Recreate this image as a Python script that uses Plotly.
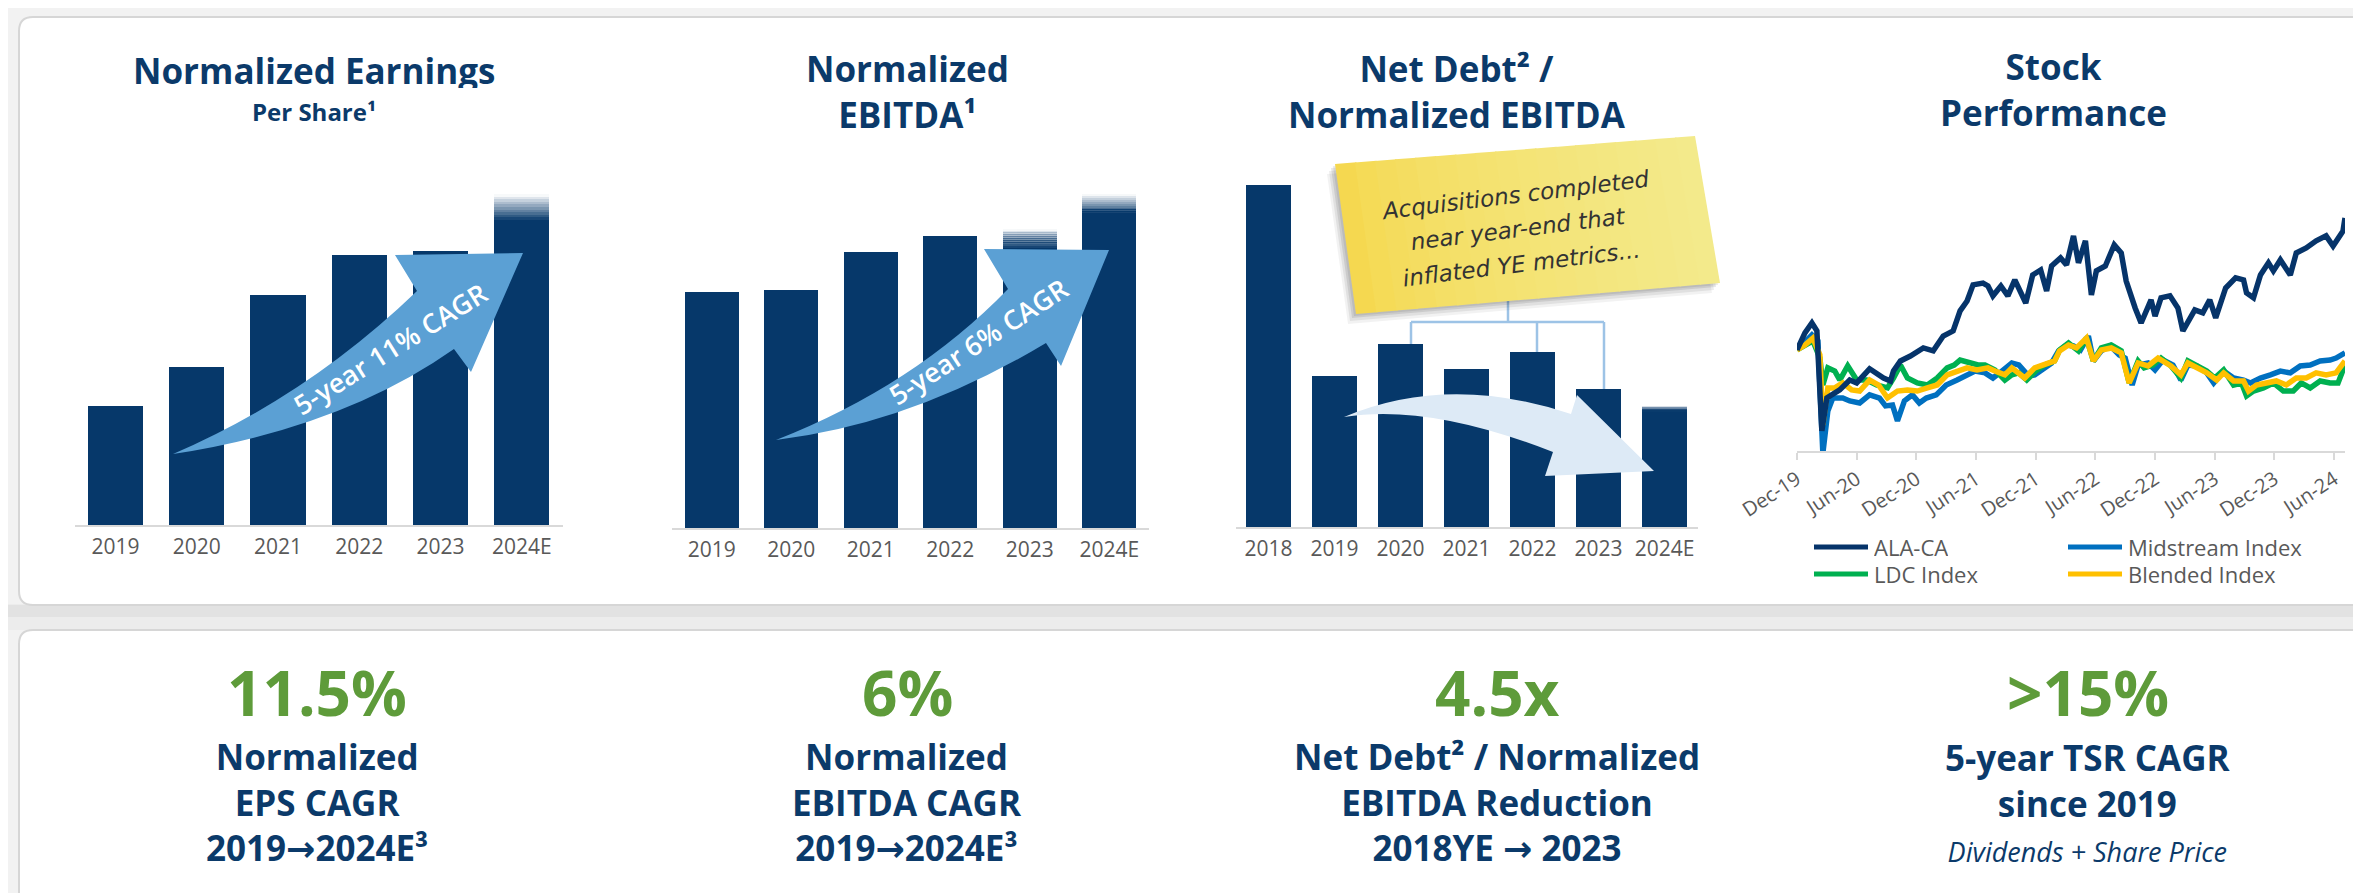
import plotly.graph_objects as go

W, H = 2361, 893

# ---------------- data ----------------
eps_years = ["2019", "2020", "2021", "2022", "2023", "2024E"]
eps_values = [0.92, 1.22, 1.77, 2.08, 2.11, 2.35]
eps_est_high = [None, None, None, None, None, 2.55]

ebitda_years = ["2019", "2020", "2021", "2022", "2023", "2024E"]
ebitda_values = [1.23, 1.24, 1.44, 1.52, 1.46, 1.64]
ebitda_est_high = [None, None, None, None, 1.56, 1.74]

debt_years = ["2018", "2019", "2020", "2021", "2022", "2023", "2024E"]
debt_values = [9.80, 5.58, 6.29, 5.74, 6.11, 5.30, 4.79]
debt_est_high = [None, None, None, None, None, None, 4.92]

stock_tick_months = [0, 6, 12, 18, 24, 30, 36, 42, 48, 54]
stock_tick_labels = ["Dec-19", "Jun-20", "Dec-20", "Jun-21", "Dec-21", "Jun-22",
                     "Dec-22", "Jun-23", "Dec-23", "Jun-24"]

ala_months = [0, 0.8, 1.5, 2.0, 2.5, 3.0, 4.3, 5.3, 6.0, 7.3, 8.7, 9.4, 9.7, 10.4, 11.4,
              12.7, 13.7, 14.7, 15.7, 16.4, 17.1, 17.7, 18.7, 19.2, 19.7, 20.5, 21.2,
              21.9, 23.0, 23.7, 24.5, 25.1, 25.6, 26.5, 27.1, 27.8, 28.3, 29.0, 29.6,
              30.1, 31.0, 31.9, 32.6, 33.1, 34.0, 34.6, 35.6, 36.0, 36.6, 37.5, 38.3,
              38.8, 40.0, 40.8, 41.5, 42.1, 43.1, 44.1, 44.9, 45.2, 45.9, 46.6, 47.4,
              47.9, 48.6, 49.6, 50.2, 51.2, 52.2, 53.2, 53.9, 54.6, 54.9, 55.1]
ala_values = [100.0, 107.6, 112.0, 108.5, 64.0, 78.6, 82.2, 86.6, 85.3, 91.6, 87.5, 86.2,
              90.6, 95.1, 97.3, 100.9, 99.6, 106.2, 108.5, 117.4, 121.8, 129.0, 129.8,
              128.5, 124.1, 128.5, 124.1, 131.2, 120.9, 133.4, 135.6, 126.3, 137.4, 141.0,
              137.9, 150.8, 138.8, 148.6, 124.5, 135.2, 137.4, 146.8, 143.2, 130.7, 118.7,
              112.0, 122.3, 115.1, 123.2, 124.1, 118.7, 108.5, 117.8, 116.5, 122.3, 114.3,
              127.6, 132.1, 131.2, 125.4, 123.2, 133.4, 138.8, 135.2, 140.1, 133.4, 143.2,
              145.4, 148.6, 150.8, 146.3, 151.2, 153.0, 158.8]

mid_months = [0, 0.8, 1.5, 2.1, 2.6, 3.1, 3.6, 4.6, 5.3, 6.3, 7.3, 8.3, 8.9, 9.6, 10.1,
              10.8, 11.6, 12.3, 13.0, 14.0, 15.0, 16.1, 17.1, 17.9, 18.9, 19.7, 20.6,
              21.6, 22.3, 23.3, 23.9, 24.9, 25.6, 26.3, 27.1, 27.8, 28.5, 29.3, 29.8,
              30.6, 31.5, 32.4, 33.0, 33.7, 34.3, 35.3, 36.0, 36.8, 37.8, 38.6, 39.3,
              40.2, 41.2, 41.9, 42.9, 43.9, 44.9, 45.6, 46.6, 47.6, 48.6, 49.6, 50.6,
              51.6, 52.6, 53.6, 54.2, 55.1]
mid_values = [100.0, 104.0, 106.7, 104.0, 54.0, 72.8, 78.6, 78.6, 77.3, 76.4, 80.0, 78.6,
              75.1, 75.5, 68.4, 77.3, 80.0, 76.4, 78.6, 80.0, 84.4, 86.6, 88.9, 90.6, 89.8,
              87.5, 90.6, 94.2, 93.3, 88.4, 88.9, 92.0, 94.2, 99.6, 102.2, 101.8, 100.0,
              106.2, 95.1, 99.6, 101.8, 97.8, 96.4, 84.4, 93.3, 94.2, 91.1, 95.5, 93.3,
              86.6, 93.3, 92.9, 89.8, 85.3, 90.6, 87.5, 86.6, 85.3, 87.5, 88.9, 90.6, 89.8,
              92.9, 93.3, 95.1, 95.5, 96.4, 98.7]

ldc_months = [0, 0.8, 1.6, 2.3, 2.6, 3.1, 3.8, 4.3, 5.1, 6.0, 7.0, 8.0, 9.1, 9.7, 10.4,
              11.1, 12.1, 13.1, 14.1, 15.1, 15.8, 16.4, 17.4, 18.2, 18.9, 19.9, 20.9,
              21.6, 22.3, 23.1, 24.0, 24.9, 25.9, 26.4, 27.3, 28.3, 29.1, 29.8, 30.6,
              31.6, 32.6, 33.4, 34.3, 34.9, 35.8, 36.6, 37.6, 38.6, 39.3, 40.2, 41.2,
              42.0, 42.9, 43.9, 44.7, 45.2, 45.9, 46.9, 47.9, 48.9, 49.9, 50.7, 51.6,
              52.6, 53.6, 54.4, 55.1]
ldc_values = [100.0, 102.2, 104.0, 96.4, 84.4, 92.0, 90.6, 86.6, 92.9, 86.6, 86.6, 84.4,
              83.1, 87.5, 93.3, 87.5, 85.3, 84.4, 87.5, 92.0, 93.3, 95.5, 94.2, 93.3, 93.3,
              91.1, 86.6, 88.9, 89.8, 86.6, 90.6, 93.3, 95.1, 100.0, 103.1, 99.6, 105.3,
              95.1, 100.9, 102.2, 99.6, 85.3, 95.1, 92.0, 93.3, 96.4, 92.9, 87.5, 95.1,
              92.9, 90.6, 87.5, 91.1, 84.4, 85.3, 79.5, 81.7, 83.1, 85.3, 81.7, 81.7, 85.3,
              83.1, 86.2, 85.3, 85.3, 93.3]

blend_months = [0, 0.8, 1.6, 2.3, 2.6, 3.1, 3.8, 4.6, 5.5, 6.3, 7.3, 8.2, 9.1, 10.1,
                11.1, 12.1, 13.1, 14.1, 15.1, 16.1, 17.1, 18.1, 19.2, 19.9, 20.9, 21.6,
                22.9, 23.9, 24.9, 25.9, 26.4, 27.3, 28.1, 29.1, 29.8, 30.6, 31.6, 32.6,
                33.4, 34.3, 35.3, 36.3, 37.6, 38.6, 39.3, 40.2, 41.2, 42.2, 42.9, 43.9,
                44.9, 45.4, 46.2, 47.2, 48.2, 49.2, 50.2, 51.2, 52.2, 53.2, 54.2, 55.1]
blend_values = [100.0, 102.2, 105.3, 97.8, 66.6, 83.1, 83.1, 85.3, 82.2, 81.7, 86.6, 84.4,
                78.6, 81.7, 82.2, 81.7, 83.1, 84.4, 88.9, 90.6, 92.0, 91.1, 92.0, 90.6,
                88.9, 92.0, 87.5, 92.0, 93.3, 95.1, 99.6, 102.2, 100.9, 105.3, 95.1, 100.0,
                100.9, 98.7, 85.3, 94.2, 92.9, 96.4, 92.9, 88.9, 94.2, 92.0, 89.8, 86.6,
                89.8, 86.2, 86.2, 81.7, 84.4, 85.3, 86.2, 84.4, 87.5, 87.5, 89.8, 88.9,
                89.8, 95.1]

# ---------------- styles ----------------
NAVY_TXT = "#0B3A6A"
BAR = "#06386A"
GREEN = "#5E9B3A"
GRAY_TXT = "#595959"
AXIS_GRAY = "#D9D9D9"
FONT = "Open Sans"


def fx(x):
    return x / W


def fy(y):
    return 1 - y / H


def path(cmds):
    out = []
    for c in cmds:
        if c[0] == 'Z':
            out.append('Z')
        else:
            pts = ' '.join(f'{fx(p[0]):.5f},{fy(p[1]):.5f}' for p in c[1:])
            out.append(f'{c[0]} {pts}')
    return ' '.join(out)


def rrect(x0, y0, x1, y1, r):
    return path([('M', (x0 + r, y0)), ('L', (x1 - r, y0)), ('Q', (x1, y0), (x1, y0 + r)),
                 ('L', (x1, y1 - r)), ('Q', (x1, y1), (x1 - r, y1)), ('L', (x0 + r, y1)),
                 ('Q', (x0, y1), (x0, y1 - r)), ('L', (x0, y0 + r)), ('Q', (x0, y0), (x0 + r, y0)),
                 ('Z',)])


def pshape(p, fill, layer="above", line=None):
    return dict(type="path", xref="paper", yref="paper", path=p, fillcolor=fill,
                line=line if line else dict(width=0), layer=layer)


fig = go.Figure()


def add_bars(cats, vals, highs, xa, ya, nfade=10):
    fig.add_trace(go.Bar(x=cats, y=vals, marker=dict(color=BAR, line=dict(width=0)),
                         xaxis=xa, yaxis=ya, showlegend=False, hoverinfo="x+y"))
    for k in range(nfade):
        seg = [None if h is None else (h - v) / nfade for v, h in zip(vals, highs)]
        fig.add_trace(go.Bar(x=cats, y=seg, marker=dict(color=BAR, line=dict(width=0)),
                             opacity=max(0.0, 1 - (k + 0.7) / nfade),
                             xaxis=xa, yaxis=ya, showlegend=False, hoverinfo="skip"))


add_bars(eps_years, eps_values, eps_est_high, "x", "y")
add_bars(ebitda_years, ebitda_values, ebitda_est_high, "x2", "y2")
add_bars(debt_years, debt_values, debt_est_high, "x3", "y3")

lw = 5.5
fig.add_trace(go.Scatter(x=mid_months, y=mid_values, mode="lines", name="Midstream Index",
                         line=dict(color="#0070C0", width=lw), xaxis="x4", yaxis="y4", showlegend=False))
fig.add_trace(go.Scatter(x=ldc_months, y=ldc_values, mode="lines", name="LDC Index",
                         line=dict(color="#00B050", width=lw), xaxis="x4", yaxis="y4", showlegend=False))
fig.add_trace(go.Scatter(x=blend_months, y=blend_values, mode="lines", name="Blended Index",
                         line=dict(color="#FFC000", width=lw), xaxis="x4", yaxis="y4", showlegend=False))
fig.add_trace(go.Scatter(x=ala_months, y=ala_values, mode="lines", name="ALA-CA",
                         line=dict(color="#06346A", width=lw), xaxis="x4", yaxis="y4", showlegend=False))

bar_x = dict(type="category", showline=True, linecolor=AXIS_GRAY, linewidth=2, showgrid=False,
             zeroline=False, ticks="", tickfont=dict(family=FONT, size=21, color=GRAY_TXT),
             ticklabelstandoff=2, fixedrange=True, automargin=False)
hidden_y = dict(visible=False, showgrid=False, zeroline=False, fixedrange=True, automargin=False)

layout = dict(
    width=W, height=H, margin=dict(l=0, r=0, t=0, b=0, pad=0, autoexpand=False),
    paper_bgcolor="#F2F2F2", plot_bgcolor="rgba(0,0,0,0)",
    barmode="stack", bargap=0.32, showlegend=False,
    font=dict(family=FONT),
    xaxis=dict(bar_x, domain=[fx(66.8), fx(554.5)], anchor="y", range=[-0.5, 5.5]),
    yaxis=dict(hidden_y, domain=[fy(517), fy(150)], anchor="x", range=[0, 2.827]),
    xaxis2=dict(bar_x, domain=[fx(664), fx(1141)], anchor="y2", range=[-0.5, 5.5]),
    yaxis2=dict(hidden_y, domain=[fy(520), fy(150)], anchor="x2", range=[0, 1.928]),
    xaxis3=dict(bar_x, domain=[fx(1227.5), fx(1689.5)], anchor="y3", range=[-0.5, 6.5]),
    yaxis3=dict(hidden_y, domain=[fy(519), fy(150)], anchor="x3", range=[2.25, 10.4]),
    xaxis4=dict(domain=[fx(1789), fx(2337)], anchor="y4", range=[0, 55.1],
                tickmode="array", tickvals=stock_tick_months, ticktext=stock_tick_labels,
                tickangle=-33, ticks="outside", ticklen=7, tickwidth=2, tickcolor=AXIS_GRAY,
                showline=True, linecolor=AXIS_GRAY, linewidth=2, showgrid=False, zeroline=False,
                tickfont=dict(family=FONT, size=20, color=GRAY_TXT), fixedrange=True,
                automargin=False),
    yaxis4=dict(hidden_y, domain=[fy(443), fy(196)], anchor="x4", range=[55, 165]),
)

shapes = []
# page background between cards (shadow band)
shapes.append(dict(type="rect", xref="paper", yref="paper", x0=0, x1=1,
                   y0=fy(622), y1=fy(596), fillcolor="#ECECEC", line=dict(width=0), layer="below"))
shapes.append(dict(type="rect", xref="paper", yref="paper", x0=0, x1=1,
                   y0=fy(609), y1=fy(597), fillcolor="#E2E2E2", line=dict(width=0), layer="below"))
# cards
shapes.append(pshape(rrect(11, 9, 2420, 597, 14), "white", "below", dict(color="#D6D6D6", width=2)))
shapes.append(pshape(rrect(11, 622, 2420, 960, 14), "white", "below", dict(color="#D6D6D6", width=2)))

# CAGR arrows
ARROW = "#5BA0D4"
shapes.append(pshape(path([('M', (165, 446)), ('Q', (300, 388), (409, 283)), ('L', (387, 247)),
                           ('L', (515, 245)), ('L', (463, 364)), ('L', (446, 341)),
                           ('Q', (334, 420), (165, 446)), ('Z',)]), ARROW))
shapes.append(pshape(path([('M', (768, 432)), ('Q', (906, 378), (1000, 281)), ('L', (976, 241)),
                           ('L', (1101, 242)), ('L', (1053, 358)), ('L', (1038, 335)),
                           ('Q', (903, 416), (768, 432)), ('Z',)]), ARROW))
# leverage arrow
shapes.append(pshape(path([('M', (1336, 409)), ('Q', (1440, 365), (1563, 406)), ('L', (1569, 387)),
                           ('L', (1646, 463)), ('L', (1537, 468)), ('L', (1545, 444)),
                           ('Q', (1420, 395), (1336, 409)), ('Z',)]), "#DDEAF6"))
# bracket lines
BRC = "#9DC3E6"
for (x0, y0, x1, y1) in [(1500, 293, 1500, 314), (1403, 314, 1596, 314), (1403, 314, 1403, 336),
                         (1529, 314, 1529, 344), (1596, 314, 1596, 381)]:
    shapes.append(dict(type="line", xref="paper", yref="paper", x0=fx(x0), y0=fy(y0), x1=fx(x1),
                       y1=fy(y1), line=dict(color=BRC, width=2.5), layer="above"))

# sticky note
TL, TR, BRc, BL = (1327, 156), (1687, 128), (1712, 275), (1348, 306)
for dx, dy, a in [(-8, 10, 0.05), (-6, 7, 0.07), (-4, 4, 0.09), (-2, 2, 0.08)]:
    shapes.append(pshape(path([('M', (TL[0] + dx, TL[1] + dy)), ('L', (TR[0] + dx, TR[1] + dy)),
                               ('L', (BRc[0] + dx, BRc[1] + dy)), ('L', (BL[0] + dx, BL[1] + dy)),
                               ('Z',)]), f"rgba(0,0,0,{a})"))


def lerp(p, q, t):
    return (p[0] + (q[0] - p[0]) * t, p[1] + (q[1] - p[1]) * t)


c0, c1 = (245, 214, 72), (243, 234, 140)
N = 18
for i in range(N):
    t0, t1 = i / N, min(1.0, (i + 1) / N + 0.004)
    tt = ((i + 0.5) / N) ** 0.6
    col = tuple(int(round(c0[j] + (c1[j] - c0[j]) * tt)) for j in range(3))
    shapes.append(pshape(path([('M', lerp(TL, TR, t0)), ('L', lerp(TL, TR, t1)),
                               ('L', lerp(BL, BRc, t1)), ('L', lerp(BL, BRc, t0)), ('Z',)]),
                         f"rgb{col}"))

# legend lines
legend_items = [("ALA-CA", "#06346A", 1806, 539), ("Midstream Index", "#0070C0", 2060, 539),
                ("LDC Index", "#00B050", 1806, 566), ("Blended Index", "#FFC000", 2060, 566)]
for name, col, x0, y0 in legend_items:
    shapes.append(dict(type="line", xref="paper", yref="paper", x0=fx(x0), x1=fx(x0 + 54),
                       y0=fy(y0), y1=fy(y0), line=dict(color=col, width=5), layer="above"))

annotations = []


def ann(x, y, text, size, color=NAVY_TXT, angle=0, xanchor="center", family=FONT, weight=None,
        height=None):
    f = dict(family=family, size=size, color=color)
    if weight:
        f["weight"] = weight
    a = dict(x=fx(x), y=fy(y), xref="paper", yref="paper", text=text, showarrow=False,
             xanchor=xanchor, yanchor="middle", textangle=angle, font=f)
    if height:
        a["height"] = height
    annotations.append(a)


# titles
ann(306, 62, "<b>Normalized Earnings</b>", 35, height=36)
ann(306, 103, "<b>Per Share¹</b>", 24, height=26)
ann(899, 83, "<b>Normalized<br>EBITDA¹</b>", 35)
ann(1449, 83, "<b>Net Debt² /<br>Normalized EBITDA</b>", 35)
ann(2045, 82, "<b>Stock<br>Performance</b>", 35)

# arrow labels
ann(382, 340, "5-year 11% CAGR", 27, color="white", angle=-32, weight=600)
ann(970, 333, "5-year 6% CAGR", 27, color="white", angle=-33, weight=600)

# sticky note text
NOTE_FONT = "DejaVu Sans"
NOTE_COL = "#333333"
ann(1507, 187, "<i>Acquisitions completed</i>", 23, color=NOTE_COL, angle=-7, family=NOTE_FONT, height=28)
ann(1510, 221, "<i>near year-end that</i>", 23, color=NOTE_COL, angle=-7, family=NOTE_FONT, height=28)
ann(1513, 256, "<i>inflated YE metrics...</i>", 23, color=NOTE_COL, angle=-7, family=NOTE_FONT, height=28)

# legend text
for name, col, x0, y0 in legend_items:
    ann(x0 + 58, y0, name, 22, color=GRAY_TXT, xanchor="left", height=24)

# bottom KPIs
ARW = '<span style="font-family:DejaVu Sans">→</span>'
kpis = [
    (309, "<b>11.5%</b>", ["<b>Normalized</b>", "<b>EPS CAGR</b>", f"<b>2019{ARW}2024E³</b>"]),
    (899, "<b>6%</b>", ["<b>Normalized</b>", "<b>EBITDA CAGR</b>", f"<b>2019{ARW}2024E³</b>"]),
    (1489, "<b>4.5x</b>", ["<b>Net Debt² / Normalized</b>", "<b>EBITDA Reduction</b>",
                           f"<b>2018YE {ARW} 2023</b>"]),
    (2080, "<b>>15%</b>", ["<b>5-year TSR CAGR</b>", "<b>since 2019</b>",
                           '<span style="font-size:27px"><i>Dividends + Share Price</i></span>']),
]
for cx, big, lines in kpis:
    ann(cx, 684, big, 62, color=GREEN, height=50)
    ann(cx, 794, "<br>".join(lines), 35)

layout["shapes"] = shapes
layout["annotations"] = annotations
fig.update_layout(**layout)
fig.write_html("out.html")
